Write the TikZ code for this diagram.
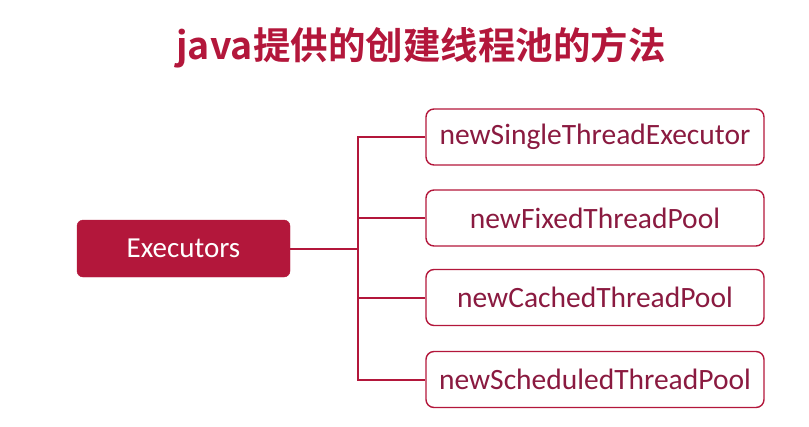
\documentclass[tikz,border=0pt]{standalone}
\usepackage{fontspec}
\setmainfont{Carlito}
\newfontfamily\cjkbold[BoldFont={Noto Sans CJK SC Bold}]{Noto Sans CJK SC}
\definecolor{wine}{HTML}{B3173B}
\definecolor{winetext}{HTML}{8A1A40}

\begin{document}
\begin{tikzpicture}[x=1pt,y=-1pt,
  root/.style={draw=wine,fill=wine,rounded corners=6pt,minimum width=213pt,minimum height=57pt,text=white,font=\fontsize{29}{34}\selectfont},
  leaf/.style={draw=wine,line width=1.4pt,rounded corners=8pt,minimum width=338pt,minimum height=56pt,text=winetext,font=\fontsize{29.5}{34}\selectfont},
  conn/.style={draw=wine,line width=2pt}]
  \useasboundingbox (0,0) rectangle (809,426);
  \node (title) at (421,48) {\cjkbold\bfseries\fontsize{37.5}{44}\selectfont\color{wine}java提供的创建线程池的方法};
  \node[root] (exec) at (183.5,248.5) {Executors};
  \node[leaf] (single) at (595,137) {newSingleThreadExecutor};
  \node[leaf] (fixed) at (595,218) {newFixedThreadPool};
  \node[leaf] (cached) at (595,297.5) {newCachedThreadPool};
  \node[leaf] (sched) at (595,379.5) {newScheduledThreadPool};
  \coordinate (hub) at (358,248.5);
  \draw[conn] (exec.east) -- (hub);
  \foreach \b in {single,fixed,cached,sched}
    \draw[conn] (hub) |- (\b.west);
\end{tikzpicture}
\end{document}
